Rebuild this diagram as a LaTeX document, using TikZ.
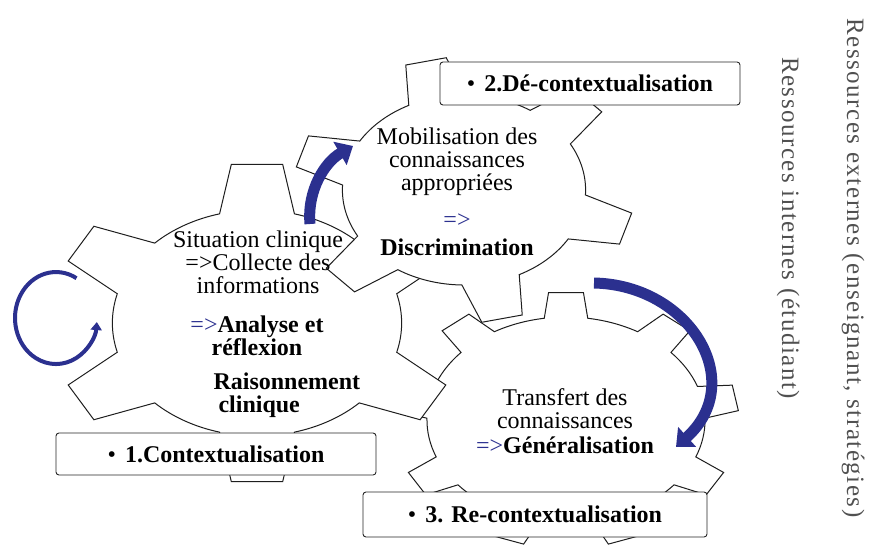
\documentclass[tikz,border=0pt]{standalone}
\usepackage{fontspec}
\setmainfont{Liberation Serif}
\newfontfamily\sidefont[LetterSpace=6]{Liberation Serif}
\usetikzlibrary{arrows.meta}
\definecolor{arrowblue}{RGB}{43,48,143}
\definecolor{gearedge}{RGB}{30,30,30}
\definecolor{sidegray}{RGB}{80,80,80}

% gear outline: center, xscale, teeth, offset, root r, tip r, root half-angle, tip half-angle
\newcommand{\gearwheel}[8]{%
  \begin{scope}[shift={#1},xscale=#2]
    \filldraw[gearline] ({#4-#7}:#5)
      \foreach \k [evaluate=\k as \a using #4+(\k-1)*360/#3] in {1,...,#3} {
        -- ({\a-#8}:#6) -- ({\a+#8}:#6) -- ({\a+#7}:#5)
        arc[start angle={\a+#7}, end angle={\a+360/#3-#7}, radius=#5]
      } -- cycle;
  \end{scope}}

\begin{document}
\begin{tikzpicture}[x=1pt,y=-1pt,
    gearline/.style={draw=gearedge,fill=white,line width=1pt,line join=miter},
    geartext/.style={font=\fontsize{24}{23}\selectfont,align=center},
    labelbox/.style={draw=black!85,fill=white,rounded corners=3pt,line width=0.9pt,
      font=\fontsize{24}{26}\selectfont\bfseries,inner sep=0pt},
    sidetext/.style={font=\sidefont\fontsize{25}{27}\selectfont,text=sidegray,rotate=-90,anchor=base,inner sep=1pt},
    bigarrow/.style={arrowblue,line width=11pt,-{Triangle[width=26pt,length=15pt]}},
    looparrow/.style={arrowblue,line width=4pt,-{Triangle[width=11pt,length=8pt]}}]
  \useasboundingbox (0,0) rectangle (869,548);

  % gears, back to front
  \gearwheel{(566,420)}{1.35}{9}{-90}{103}{128}{9}{5.8}
  \gearwheel{(257,323)}{1.28}{6}{90}{113}{160}{15}{7.2}
  \gearwheel{(464,190)}{1.28}{6}{-103}{95}{133}{14}{7}

  % gear texts
  \node[geartext] (sit) at (258,262) {Situation clinique\\=>Collecte des\\informations};
  \node[geartext] (ana) at (257,336) {\textcolor{arrowblue}{=>}\textbf{Analyse et}\\\textbf{réflexion}};
  \node[geartext,align=left,anchor=west] (rai) at (210,395) {\textbf{Raisonnement}\\\hspace{5pt}\textbf{clinique}};
  \node[geartext] (mob) at (457,162) {Mobilisation des\\connaissances\\appropriées};
  \node[geartext] (disc) at (457,235) {\textcolor{arrowblue}{=>}\\[5pt]\textbf{Discrimination}};
  \node[geartext] (trans) at (565,421) {Transfert des\\connaissances\\[2pt]\textcolor{arrowblue}{=>}\textbf{Généralisation}};

  % step boxes
  \node[labelbox,minimum width=320pt,minimum height=42pt] (ctx) at (216,454)
    {\textnormal{\textbullet}\hspace{9pt}1.Contextualisation};
  \node[labelbox,minimum width=300pt,minimum height=43pt] (dectx) at (590,83.5)
    {\textnormal{\textbullet}\hspace{9pt}2.Dé-contextualisation};
  \node[labelbox,minimum width=344pt,minimum height=45pt] (rectx) at (535,514.5)
    {\textnormal{\textbullet}\hspace{9pt}3. Re-contextualisation};

  % rotation arrows
  \coordinate (loopstart) at (76.5,278.2);
  \draw[looparrow] (loopstart) arc[start angle=-60, end angle=-355, x radius=41, y radius=46];
  \coordinate (upstart) at (310,224);
  \coordinate (upend) at (353,146);
  \draw[bigarrow] (upstart) .. controls (307,190) and (325,162) .. (upend);
  \coordinate (downstart) at (594,283);
  \coordinate (downend) at (676,447);
  \draw[bigarrow] (downstart) .. controls (690,285) and (748,382) .. (downend);

  % resources
  \node[sidetext] (ext) at (847,268) {Ressources externes (enseignant, stratégies)};
  \node[sidetext] (int) at (782,228) {Ressources internes (étudiant)};
\end{tikzpicture}
\end{document}
